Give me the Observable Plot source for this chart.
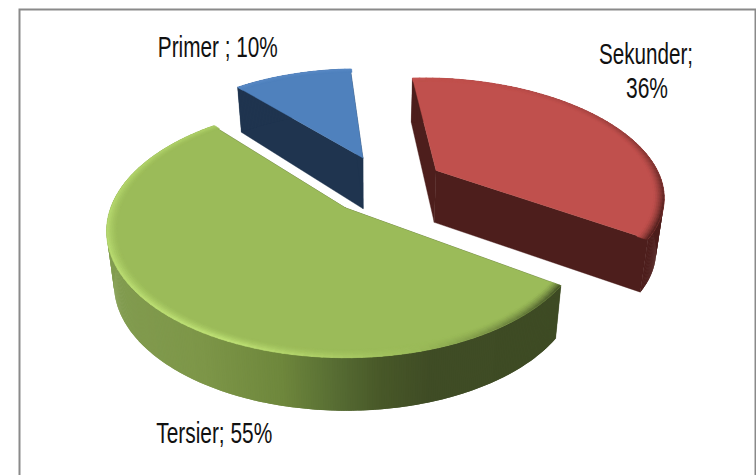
<!DOCTYPE html>
<html><head><meta charset="utf-8">
<style>html,body{margin:0;padding:0;background:#fff;overflow:hidden}svg{display:block}</style>
<script src="https://cdn.jsdelivr.net/npm/d3@7"></script>
<script src="https://cdn.jsdelivr.net/npm/@observablehq/plot@0.6"></script>
</head><body><script>
// ---- data
const categories = ["Primer", "Sekunder", "Tersier"];
const values = [10.4, 36, 55];
const labelLines = [["Primer ; 10%"], ["Sekunder;", "36%"], ["Tersier; 55%"]];

// ---- styles
const faceColors = ["#4f81bd", "#c0504d", "#9bbb59"];
const wallColors = ["#1f344f", "#4d1e1c", "#3e4b24"];
const lightColors = ["#7ba7dc", "#d9706c", "#c2e578"];

// ---- layout: a tilted, perspective disc; slices pulled out from a common centre
const view = {cx: 344.5, cy: 207, rx: 234.5, ry: 122, k: 0.185, vanish: 370, shrink: 0.028, depth: 55, maxDepth: 53};
const pie = {start: 320, centerU: 0.18, centerV: 0.193, explode: 0.265, rim: 0.045};
const labelOffsets = [[[-74, -17]], [[39, -58], [40, -24]], [[52, 131]]];
const labelWidths = [[120], [94, 42], [116]];

const rad = d => d * Math.PI / 180;
const dir = a => [Math.sin(rad(a)), Math.cos(rad(a))];
function project(u, v, z = 0) {
  const s = 1 / (1 + view.k * v);
  const px = view.cx + view.rx * u * s, py = view.cy - view.ry * v * s;
  return [view.vanish + (px - view.vanish) * (1 - view.shrink * z), py + Math.min(view.maxDepth, view.depth * s) * z];
}
const total = d3.sum(values);
let acc = pie.start;
const slices = values.map((value, i) => {
  const a0 = acc, a1 = acc + value / total * 360; acc = a1;
  const mid = (a0 + a1) / 2, m = dir(mid);
  return {i, a0, a1, mid, u: pie.centerU + pie.explode * m[0], v: pie.centerV + pie.explode * m[1]};
});
const at = (s, a, r = 1) => { const d = dir(a); return [s.u + r * d[0], s.v + r * d[1]]; };

const greenWall = d3.scaleLinear()
  .domain([105, 200, 280, 340, 380, 430, 560])
  .range(["#829c50", "#7d9648", "#6e873c", "#556a32", "#485828", "#3f4c25", "#3e4b24"]).clamp(true);

function rimStrength(a0) {
  const a = ((a0 % 360) + 360) % 360;
  if (a < 165) return -Math.min(1, Math.pow(a / 110, 2)) * (a > 125 ? (165 - a) / 40 : 1);
  if (a < 205) return (a - 165) / 40;
  if (a < 320) return 1 - 0.5 * (a - 205) / 115;
  return 0.25;
}

const polys = [];
let nextId = 0;
function poly(points, fill, stroke = fill) {
  const id = nextId++;
  for (const [x, y] of [...points, points[0]]) polys.push({id, x, y, fill, stroke});
}
const step = 2, wallStep = 0.5, rings = 6;
for (const s of slices) {
  const wall = wallColors[s.i], face = faceColors[s.i], n = Math.ceil((s.a1 - s.a0) / step), da = (s.a1 - s.a0) / n;
  const apex = [s.u, s.v];
  for (const a of [s.a0, s.a1]) {
    const e = at(s, a);
    poly([project(...apex, 0), project(...e, 0), project(...e, 1), project(...apex, 1)], wall);
  }
  const wn = Math.ceil((s.a1 - s.a0) / wallStep), wd = (s.a1 - s.a0) / wn;
  for (let j = 0; j < wn; j++) {
    const a = s.a0 + j * wd, b = Math.min(s.a1, a + wd * 2);
    const A = at(s, a), B = at(s, b);
    const mx = project(...at(s, a + wd / 2))[0];
    poly([project(...A, 0), project(...B, 0), project(...B, 1), project(...A, 1)], s.i === 2 ? greenWall(mx) : wall, "none");
  }
  const arc = d3.range(n + 1).map(j => project(...at(s, s.a0 + j * da)));
  poly([project(...apex), ...arc], face);
  for (let j = 0; j < n; j++) {
    const a = s.a0 + j * da, str = rimStrength(a + da / 2);
    const col = d3.interpolateRgb(face, str < 0 ? wall : lightColors[s.i]);
    for (let k = 0; k < rings; k++) {
      const t = (k + 0.5) / rings, r0 = 1 - pie.rim * (1 - k / rings), r1 = 1 - pie.rim * (1 - (k + 1) / rings);
      poly([project(...at(s, a, r0)), project(...at(s, a + da * 1.2, r0)), project(...at(s, a + da * 1.2, r1)), project(...at(s, a, r1))],
        col(Math.abs(str) * Math.pow(t, 1.5)));
    }
  }
}

const labels = [];
slices.forEach(s => {
  const base = project(...at(s, s.mid));
  labelLines[s.i].forEach((text, l) => labels.push({
    text, width: labelWidths[s.i][l],
    x: base[0] + labelOffsets[s.i][l][0], y: base[1] + labelOffsets[s.i][l][1]
  }));
});

const chart = Plot.plot({
  width: 756, height: 475, margin: 0,
  x: {domain: [0, 756], range: [0, 756], axis: null},
  y: {domain: [0, 475], range: [0, 475], axis: null},
  marks: [
    Plot.frame({stroke: "#8a8a8a", strokeWidth: 2, insetLeft: 19, insetTop: 9, insetRight: 1, insetBottom: -4}),
    Plot.line(polys, {x: "x", y: "y", z: "id", fill: "fill", stroke: "stroke", strokeWidth: 0.4, strokeLinejoin: "round"}),
    Plot.text(labels, {x: "x", y: "y", text: "text", fontSize: 29, fontFamily: "Liberation Sans", fill: "#111", lineAnchor: "bottom", textAnchor: "middle"})
  ]
});
d3.select(chart).selectAll('g[aria-label="text"] text').each(function(_, i) {
  this.setAttribute("textLength", labels[i].width);
  this.setAttribute("lengthAdjust", "spacingAndGlyphs");
});
document.body.append(chart);
</script></body></html>
